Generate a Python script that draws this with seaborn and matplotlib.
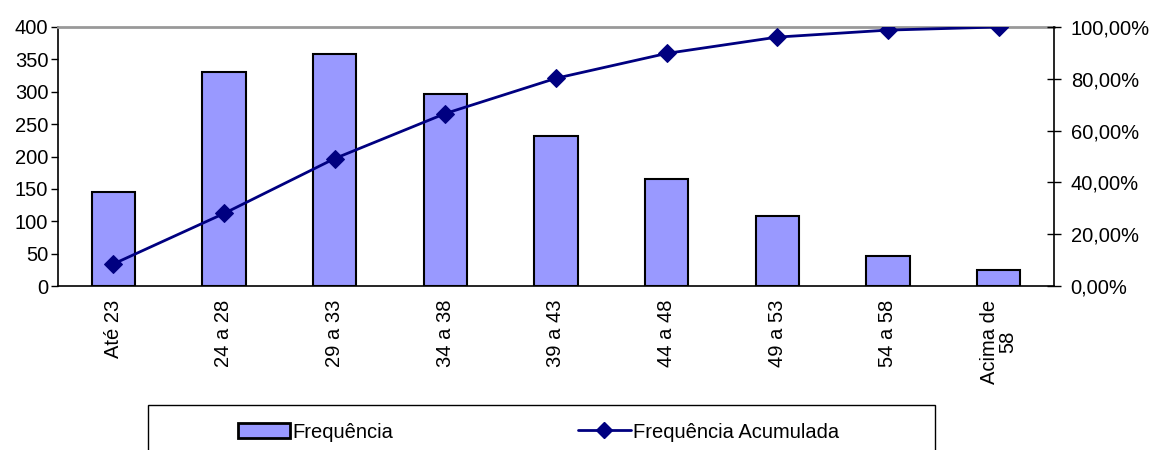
import seaborn as sns
import matplotlib.pyplot as plt
import pandas as pd
from matplotlib.patches import Patch, Rectangle
from matplotlib.lines import Line2D
from matplotlib.ticker import FuncFormatter, MultipleLocator

faixas = ['Até 23', '24 a 28', '29 a 33', '34 a 38', '39 a 43',
          '44 a 48', '49 a 53', '54 a 58', 'Acima de\n58']
frequencia = [145, 330, 359, 296, 231, 165, 108, 46, 25]
acumulada = [8.5, 28.0, 49.2, 66.6, 80.2, 89.8, 96.1, 98.8, 100.0]

sns.set_style('white')
plt.rcParams['font.family'] = ['Liberation Sans', 'DejaVu Sans']
plt.rcParams['font.size'] = 14.5
plt.rcParams['text.color'] = 'black'
plt.rcParams['xtick.color'] = 'black'
plt.rcParams['ytick.color'] = 'black'

df = pd.DataFrame({'faixa': faixas, 'freq': frequencia, 'acum': acumulada})

fig = plt.figure(figsize=(11.5, 4.5), dpi=100)
ax = fig.add_axes([0.0504, 0.3644, 0.8661, 0.5756])

sns.barplot(data=df, x='faixa', y='freq', ax=ax, color='#9999FF',
            saturation=1, width=0.39, edgecolor='black', linewidth=1.5)
ax.set_xlim(-0.5, len(faixas) - 0.5)
ax.set_ylim(0, 400)
ax.yaxis.set_major_locator(MultipleLocator(50))
ax.set_xlabel('')
ax.set_ylabel('')
ax.set_xticks([i + 0.5 for i in range(len(faixas) - 1)], minor=True)
ax.set_xticks(range(len(faixas)))
ax.set_xticklabels(faixas, rotation=90, va='top', ha='center', linespacing=0.95)
ax.tick_params(axis='x', which='major', length=0, pad=10)
ax.tick_params(axis='x', which='minor', length=6, width=1, direction='out', color='black')
ax.tick_params(axis='y', length=5, width=1, direction='out', color='black', pad=2)
for s in ['left', 'bottom']:
    ax.spines[s].set_color('black')
    ax.spines[s].set_linewidth(1.2)
ax.spines['top'].set_color('#999999')
ax.spines['top'].set_linewidth(2)
ax.spines['right'].set_visible(False)

ax2 = ax.twinx()
sns.lineplot(data=df, x='faixa', y='acum', ax=ax2, sort=False, color='#000080',
             marker='D', markersize=9, markeredgecolor='#000080', linewidth=2)
ax2.set_ylim(0, 100)
ax2.set_xlim(-0.5, len(faixas) - 0.5)
ax2.set_ylabel('')
ax2.yaxis.set_major_locator(MultipleLocator(20))
ax2.yaxis.set_major_formatter(FuncFormatter(lambda v, p: f'{v:.2f}%'.replace('.', ',')))
ax2.tick_params(axis='y', length=10, width=1, direction='inout', color='black', pad=7)
for s in ['left', 'bottom', 'top']:
    ax2.spines[s].set_visible(False)
ax2.spines['right'].set_color('black')
ax2.spines['right'].set_linewidth(1.2)

# legend box (cut by the bottom edge like in the original)
fig.patches.append(Rectangle((148 / 1150, -0.05), 787 / 1150, 45 / 450 + 0.05,
                             transform=fig.transFigure, fill=False,
                             edgecolor='black', linewidth=1))
handles = [Patch(facecolor='#9999FF', edgecolor='black', linewidth=2),
           Line2D([0], [0], color='#000080', linewidth=2, marker='D', markersize=8)]
fig.legend(handles, ['Frequência', 'Frequência Acumulada'], ncol=2,
           loc='center', bbox_to_anchor=(0.468, 1 - 432 / 450),
           frameon=False, handlelength=2.6, handletextpad=0.1,
           columnspacing=9.2, fontsize=14.5)

fig.savefig('out.png', dpi=100)
